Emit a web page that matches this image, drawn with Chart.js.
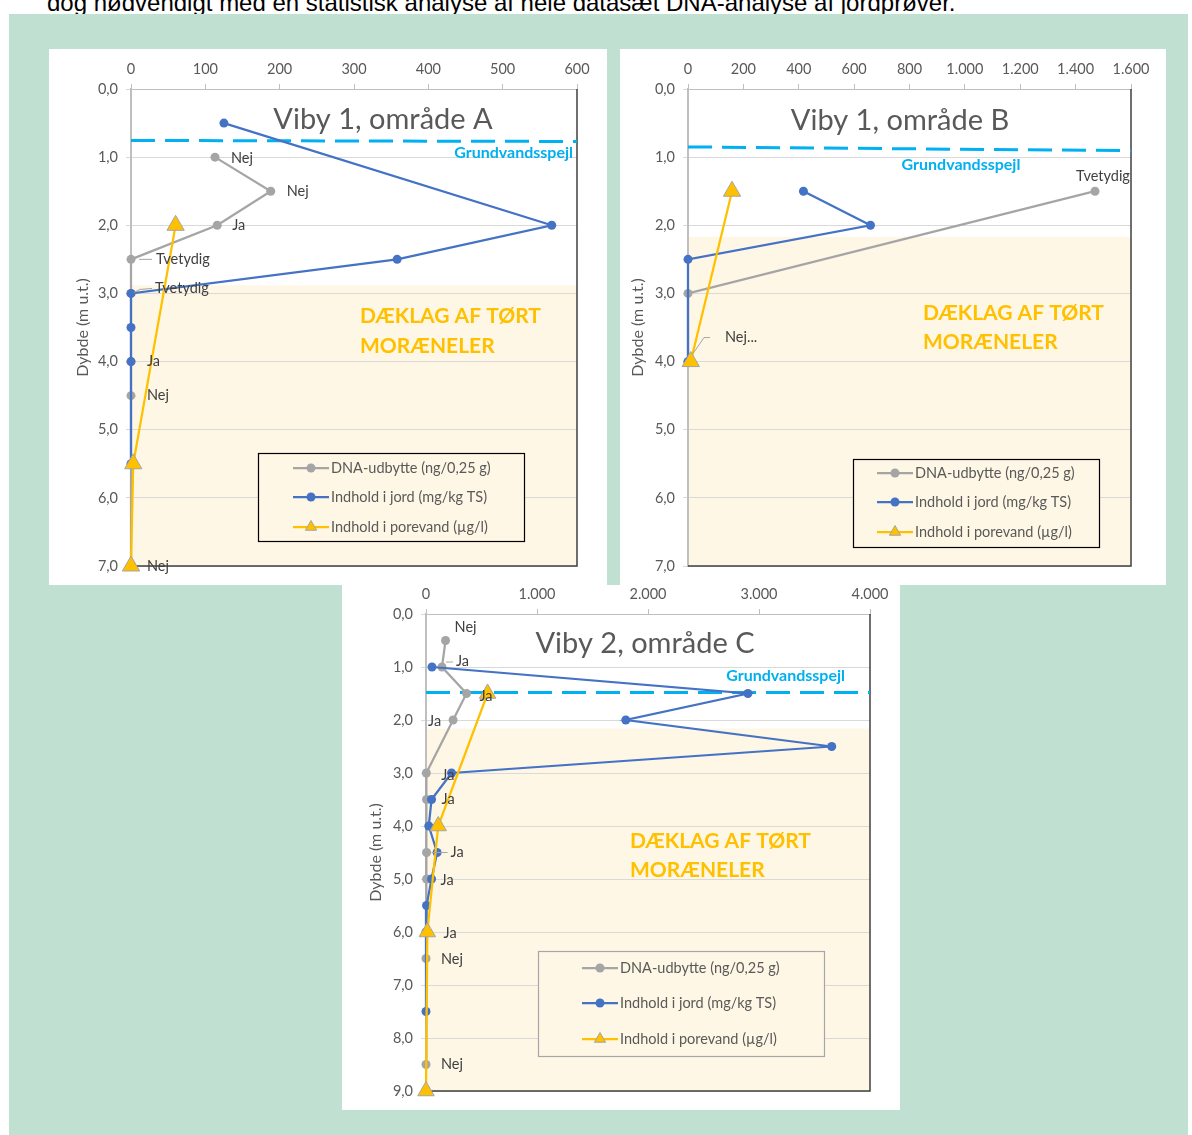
<!DOCTYPE html>
<html lang="da">
<head>
<meta charset="utf-8">
<title>Viby – dybdeprofiler</title>
<script src="https://cdn.jsdelivr.net/npm/chart.js@4.4.1/dist/chart.umd.min.js"></script>
<style>
  html, body { margin: 0; padding: 0; }
  body { width: 1192px; height: 1135px; overflow: hidden; background: #fff; position: relative; }
  .intro { position: absolute; left: 47px; top: -7px; font: 19px/19px "Liberation Sans", Arial, sans-serif; color: #000; white-space: nowrap; }
  .panel { position: absolute; left: 9px; top: 14px; width: 1179px; height: 1121px; background: #c0e1d2; }
  .box { position: absolute; background: #fff; }
  .box canvas { display: block; }
</style>
</head>
<body>
<div class="intro" id="intro">dog nødvendigt med en statistisk analyse af hele datasæt DNA-analyse af jordprøver.</div>
<div class="panel"></div>
<div class="box" style="left:49px;top:49px;width:558px;height:536px"><canvas id="chartA" width="558" height="536"></canvas></div>
<div class="box" style="left:620px;top:49px;width:546px;height:536px"><canvas id="chartB" width="546" height="536"></canvas></div>
<div class="box" style="left:342px;top:585px;width:558px;height:525px"><canvas id="chartC" width="558" height="525"></canvas></div>

<script>
// ---------- Shared text ----------
const seriesNames = ['DNA-udbytte (ng/0,25 g)', 'Indhold i jord (mg/kg TS)', 'Indhold i porevand (µg/l)'];
const depthTitle = 'Dybde (m u.t.)';
const clayText = ['DÆKLAG AF TØRT', 'MORÆNELER'];
const waterText = 'Grundvandsspejl';

// ---------- Viby 1, område A ----------
const titleA = 'Viby 1, område A';
const xTicksA = [0, 100, 200, 300, 400, 500, 600];
const depthTicksA = [0, 1, 2, 3, 4, 5, 6, 7];
const dnaDepthA = [1.0, 1.5, 2.0, 2.5, 3.0, 4.0, 4.5, 7.0];
const dnaA = [113, 188, 116, 0, 0, 0, 0, 0];
const dnaResultA = ['Nej', 'Nej', 'Ja', 'Tvetydig', 'Tvetydig', 'Ja', 'Nej', 'Nej'];
const soilDepthA = [0.5, 2.0, 2.5, 3.0, 3.5, 4.0, 5.5];
const soilA = [125, 566, 358, 0, 0, 0, 0];
const poreDepthA = [2.0, 5.5, 7.0];
const poreA = [60, 3, 0];
const waterTableA = [0.755, 0.77];   // depth at left and right edge
const clayTopA = 2.88;

// ---------- Viby 1, område B ----------
const titleB = 'Viby 1, område B';
const xTicksB = [0, 200, 400, 600, 800, 1000, 1200, 1400, 1600];
const depthTicksB = [0, 1, 2, 3, 4, 5, 6, 7];
const dnaDepthB = [1.5, 3.0, 4.0];
const dnaB = [1470, 0, 0];
const dnaResultB = ['Tvetydig', '', 'Nej...'];
const soilDepthB = [1.5, 2.0, 2.5, 4.0];
const soilB = [417, 659, 0, 0];
const poreDepthB = [1.5, 4.0];
const poreB = [159, 10];
const waterTableB = [0.85, 0.905];
const clayTopB = 2.17;

// ---------- Viby 2, område C ----------
const titleC = 'Viby 2, område C';
const xTicksC = [0, 1000, 2000, 3000, 4000];
const depthTicksC = [0, 1, 2, 3, 4, 5, 6, 7, 8, 9];
const dnaDepthC = [0.5, 1.0, 1.5, 2.0, 3.0, 3.5, 4.5, 5.0, 6.0, 6.5, 8.5];
const dnaC = [176, 144, 365, 244, 3, 5, 5, 5, 5, 0, 0];
const dnaResultC = ['Nej', 'Ja', 'Ja', 'Ja', 'Ja', 'Ja', 'Ja', 'Ja', 'Ja', 'Nej', 'Nej'];
const soilDepthC = [1.0, 1.5, 2.0, 2.5, 3.0, 3.5, 4.0, 4.5, 5.0, 5.5, 6.0, 7.5];
const soilC = [54, 2900, 1800, 3655, 230, 50, 25, 100, 50, 5, 0, 0];
const poreDepthC = [1.5, 4.0, 6.0, 9.0];
const poreC = [555, 110, 12, 0];
const waterTableC = [1.48, 1.48];
const clayTopC = 2.16;

// ---------- Styling ----------
const FONT = 'Lato, "Open Sans", "DejaVu Sans", sans-serif';
const TXT = '#595959';
const GREY = '#a5a5a5';
const BLUE = '#4472c4';
const GOLD = '#ffc000';
const CYAN = '#00b0f0';
const CLAY = '#fff7e5';
const TICK_SIZE = 14.5;
const LEGEND_SIZE = 14.5;
const LABEL_SIZE = 14.5;
const AXIS_TITLE_SIZE = 16;

function thousands(v) { return String(Math.round(v)).replace(/\B(?=(\d{3})+(?!\d))/g, '.'); }
function depthLabel(v) { return Number(v).toFixed(1).replace('.', ','); }
function pts(xs, ys) { return xs.map((v, i) => ({ x: v, y: ys[i] })); }

function drawMarker(ctx, kind, x, y) {
  ctx.save();
  if (kind === 'triangle') {
    const r = 6.5;
    ctx.beginPath();
    ctx.moveTo(x, y - r);
    ctx.lineTo(x + r * 0.866, y + r * 0.5);
    ctx.lineTo(x - r * 0.866, y + r * 0.5);
    ctx.closePath();
    ctx.fillStyle = GOLD; ctx.fill();
    ctx.strokeStyle = GREY; ctx.lineWidth = 1; ctx.stroke();
  } else {
    ctx.beginPath();
    ctx.arc(x, y, 4.5, 0, Math.PI * 2);
    ctx.fillStyle = kind; ctx.fill();
  }
  ctx.restore();
}

// Decorations for one depth profile: clay layer, water table, titles, labels and legend box.
function profilePlugin(L) {
  return {
    id: 'profile',
    beforeDraw(chart) {
      const { ctx, chartArea: a, scales: { y } } = chart;
      const top = y.getPixelForValue(L.clayTop);
      ctx.save();
      ctx.fillStyle = CLAY;
      ctx.fillRect(a.left, top, a.right - a.left, a.bottom - top);
      ctx.restore();
    },
    beforeDatasetsDraw(chart) {
      const { ctx, chartArea: a, scales: { x, y } } = chart;
      ctx.save();
      // plot frame (right and bottom)
      ctx.strokeStyle = '#404040';
      ctx.lineWidth = 1.5;
      ctx.beginPath();
      ctx.moveTo(a.right, a.top);
      ctx.lineTo(a.right, a.bottom);
      ctx.lineTo(a.left, a.bottom);
      ctx.stroke();
      // chart title
      ctx.fillStyle = TXT;
      ctx.font = `29px ${FONT}`;
      ctx.textAlign = 'center';
      ctx.textBaseline = 'middle';
      ctx.fillText(L.title, a.left + L.titleAt[0], a.top + L.titleAt[1]);
      // clay layer caption
      ctx.fillStyle = GOLD;
      ctx.font = `bold 21px ${FONT}`;
      ctx.textAlign = 'left';
      clayText.forEach((t, i) => ctx.fillText(t, a.left + L.clayAt[0], a.top + L.clayAt[1] + i * L.clayAt[2]));
      // water table
      ctx.strokeStyle = CYAN;
      ctx.lineWidth = 3;
      ctx.setLineDash([24, 10]);
      ctx.beginPath();
      ctx.moveTo(x.getPixelForValue(x.min), y.getPixelForValue(L.water[0]));
      ctx.lineTo(x.getPixelForValue(x.max), y.getPixelForValue(L.water[1]));
      ctx.stroke();
      ctx.setLineDash([]);
      ctx.fillStyle = CYAN;
      ctx.font = `bold 16px ${FONT}`;
      ctx.textAlign = L.waterAt[2];
      ctx.fillText(waterText, a.left + L.waterAt[0], a.top + L.waterAt[1]);
      ctx.restore();
    },
    afterDatasetsDraw(chart) {
      const { ctx, chartArea: a } = chart;
      ctx.save();
      // DNA result labels next to the DNA points
      const meta = chart.getDatasetMeta(2);
      ctx.font = `${LABEL_SIZE}px ${FONT}`;
      ctx.textBaseline = 'middle';
      L.results.forEach((txt, i) => {
        if (!txt) return;
        const el = meta.data[i];
        const p = L.labelAt[i];
        if (p[3]) {
          ctx.strokeStyle = GREY;
          ctx.lineWidth = 1;
          ctx.beginPath();
          ctx.moveTo(el.x + p[3][0], el.y + p[3][1]);
          for (let k = 2; k < p[3].length; k += 2) ctx.lineTo(el.x + p[3][k], el.y + p[3][k + 1]);
          ctx.stroke();
        }
        ctx.fillStyle = '#404040';
        ctx.textAlign = p[2];
        ctx.fillText(txt, el.x + p[0], el.y + p[1]);
      });
      // legend box
      const g = L.legend;
      const bx = a.left + g.x, by = a.top + g.y;
      ctx.fillStyle = CLAY;
      ctx.fillRect(bx, by, g.w, g.h);
      ctx.strokeStyle = g.border;
      ctx.lineWidth = 1.2;
      ctx.strokeRect(bx + 0.5, by + 0.5, g.w, g.h);
      const colors = [GREY, BLUE, GOLD];
      const marks = [GREY, BLUE, 'triangle'];
      ctx.font = `${LEGEND_SIZE}px ${FONT}`;
      ctx.textAlign = 'left';
      seriesNames.forEach((name, i) => {
        const yy = by + g.rows[i];
        ctx.strokeStyle = colors[i];
        ctx.lineWidth = 2.25;
        ctx.beginPath();
        ctx.moveTo(bx + g.line, yy);
        ctx.lineTo(bx + g.line + 36, yy);
        ctx.stroke();
        drawMarker(ctx, marks[i], bx + g.line + 18, yy);
        ctx.fillStyle = TXT;
        ctx.fillText(name, bx + g.line + 38, yy);
      });
      ctx.restore();
    }
  };
}

function buildChart(id, D, L) {
  const xt = D.xTicks, yt = D.depthTicks;
  return new Chart(document.getElementById(id), {
    type: 'scatter',
    data: {
      datasets: [
        { label: seriesNames[2], data: pts(D.pore, D.poreDepth), order: 0,
          borderColor: GOLD, backgroundColor: GOLD, borderWidth: 2.25, showLine: true, clip: false,
          pointStyle: 'triangle', pointRadius: L.tri, pointBorderColor: GREY, pointBorderWidth: 1 },
        { label: seriesNames[1], data: pts(D.soil, D.soilDepth), order: 1,
          borderColor: BLUE, backgroundColor: BLUE, borderWidth: 2.25, showLine: true, clip: false,
          pointStyle: 'circle', pointRadius: 4.5, pointBorderWidth: 0 },
        { label: seriesNames[0], data: pts(D.dna, D.dnaDepth), order: 2,
          borderColor: GREY, backgroundColor: GREY, borderWidth: 2.25, showLine: true, clip: false,
          pointStyle: 'circle', pointRadius: 4.5, pointBorderWidth: 0 }
      ]
    },
    options: {
      responsive: false,
      animation: false,
      devicePixelRatio: 1,
      events: [],
      layout: { padding: { left: 0, top: 0, right: L.padRight, bottom: L.padBottom } },
      plugins: { legend: { display: false }, tooltip: { enabled: false } },
      scales: {
        x: {
          type: 'linear', position: 'top', min: xt[0], max: xt[xt.length - 1],
          afterBuildTicks: s => { s.ticks = xt.map(v => ({ value: v })); },
          afterFit: s => { s.height = L.top; },
          grid: { drawOnChartArea: false, drawTicks: true, tickLength: 5, color: '#bfbfbf' },
          border: { color: '#bfbfbf', width: 1 },
          ticks: { color: TXT, font: { family: FONT, size: TICK_SIZE }, padding: 6, maxRotation: 0, autoSkip: false,
                   callback: v => thousands(v) }
        },
        y: {
          type: 'linear', reverse: true, min: yt[0], max: yt[yt.length - 1],
          afterBuildTicks: s => { s.ticks = yt.map(v => ({ value: v })); },
          afterFit: s => { s.width = L.left; },
          grid: { color: '#d9d9d9', tickLength: 5 },
          border: { color: '#bfbfbf', width: 2 },
          ticks: { color: TXT, font: { family: FONT, size: TICK_SIZE }, padding: 8, autoSkip: false,
                   callback: v => depthLabel(v) },
          title: { display: true, text: depthTitle, color: TXT, font: { family: FONT, size: AXIS_TITLE_SIZE },
                   padding: { top: L.titlePad, bottom: 0 } }
        }
      }
    },
    plugins: [profilePlugin(L)]
  });
}

function fitIntro() {
  const el = document.getElementById('intro');
  const w = el.getBoundingClientRect().width;
  if (w > 0) el.style.fontSize = (19 * 909 / w).toFixed(2) + 'px';
}

function start() {
  fitIntro();
  buildChart('chartA',
    { xTicks: xTicksA, depthTicks: depthTicksA, dnaDepth: dnaDepthA, dna: dnaA,
      soilDepth: soilDepthA, soil: soilA, poreDepth: poreDepthA, pore: poreA },
    { left: 82, top: 40, padRight: 30, padBottom: 19, titlePad: 24.4, tri: 10,
      title: titleA, titleAt: [252, 31], clayTop: clayTopA, clayAt: [229, 227, 30],
      water: waterTableA, waterAt: [442, 64, 'right'],
      results: dnaResultA,
      labelAt: [[16, 1, 'left'], [16, 0, 'left'], [15, 0, 'left'],
                [25, 0, 'left', [8, 0, 21, 0]], [24, -5, 'left', [3, -1, 9, -4, 21, -5]],
                [16, 0, 'left'], [16, 0, 'left'], [16, 0, 'left']],
      legend: { x: 127, y: 364, w: 266, h: 88, rows: [15, 44, 74], line: 35, border: '#000' } });

  buildChart('chartB',
    { xTicks: xTicksB, depthTicks: depthTicksB, dnaDepth: dnaDepthB, dna: dnaB,
      soilDepth: soilDepthB, soil: soilB, poreDepth: poreDepthB, pore: poreB },
    { left: 68, top: 40, padRight: 35, padBottom: 19, titlePad: 8.4, tri: 10,
      title: titleB, titleAt: [212, 32], clayTop: clayTopB, clayAt: [235, 224, 29],
      water: waterTableB, waterAt: [273, 76, 'center'],
      results: dnaResultB,
      labelAt: [[8, -15, 'center'], [0, 0, 'left'], [37, -24, 'left', [5, -8, 16, -24, 22, -24]]],
      legend: { x: 165, y: 370, w: 246, h: 88, rows: [14, 43, 73], line: 24, border: '#000' } });

  buildChart('chartC',
    { xTicks: xTicksC, depthTicks: depthTicksC, dnaDepth: dnaDepthC, dna: dnaC,
      soilDepth: soilDepthC, soil: soilC, poreDepth: poreDepthC, pore: poreC },
    { left: 84, top: 29, padRight: 30, padBottom: 19, titlePad: 24.4, tri: 9.5,
      title: titleC, titleAt: [219, 30], clayTop: clayTopC, clayAt: [204, 227, 29],
      water: waterTableC, waterAt: [419, 62, 'right'],
      results: dnaResultC,
      labelAt: [[9, -13, 'left'], [14, -6, 'left', [4, -5, 11, -5]], [13, 3, 'left'], [-12, 1, 'right'],
                [15, 2, 'left'], [15, 0, 'left'], [24, 0, 'left', [5, 0, 21, 0]], [14, 1, 'left'],
                [17, 1, 'left'], [15, 1, 'left'], [15, 0, 'left']],
      legend: { x: 112, y: 337, w: 286, h: 105, rows: [17, 52, 88], line: 44, border: '#a6a6a6' } });
}

if (document.fonts && document.fonts.load) {
  Promise.all([document.fonts.load(`13px ${FONT}`), document.fonts.load(`bold 20px ${FONT}`)])
    .then(start, start);
} else {
  start();
}
</script>
</body>
</html>
